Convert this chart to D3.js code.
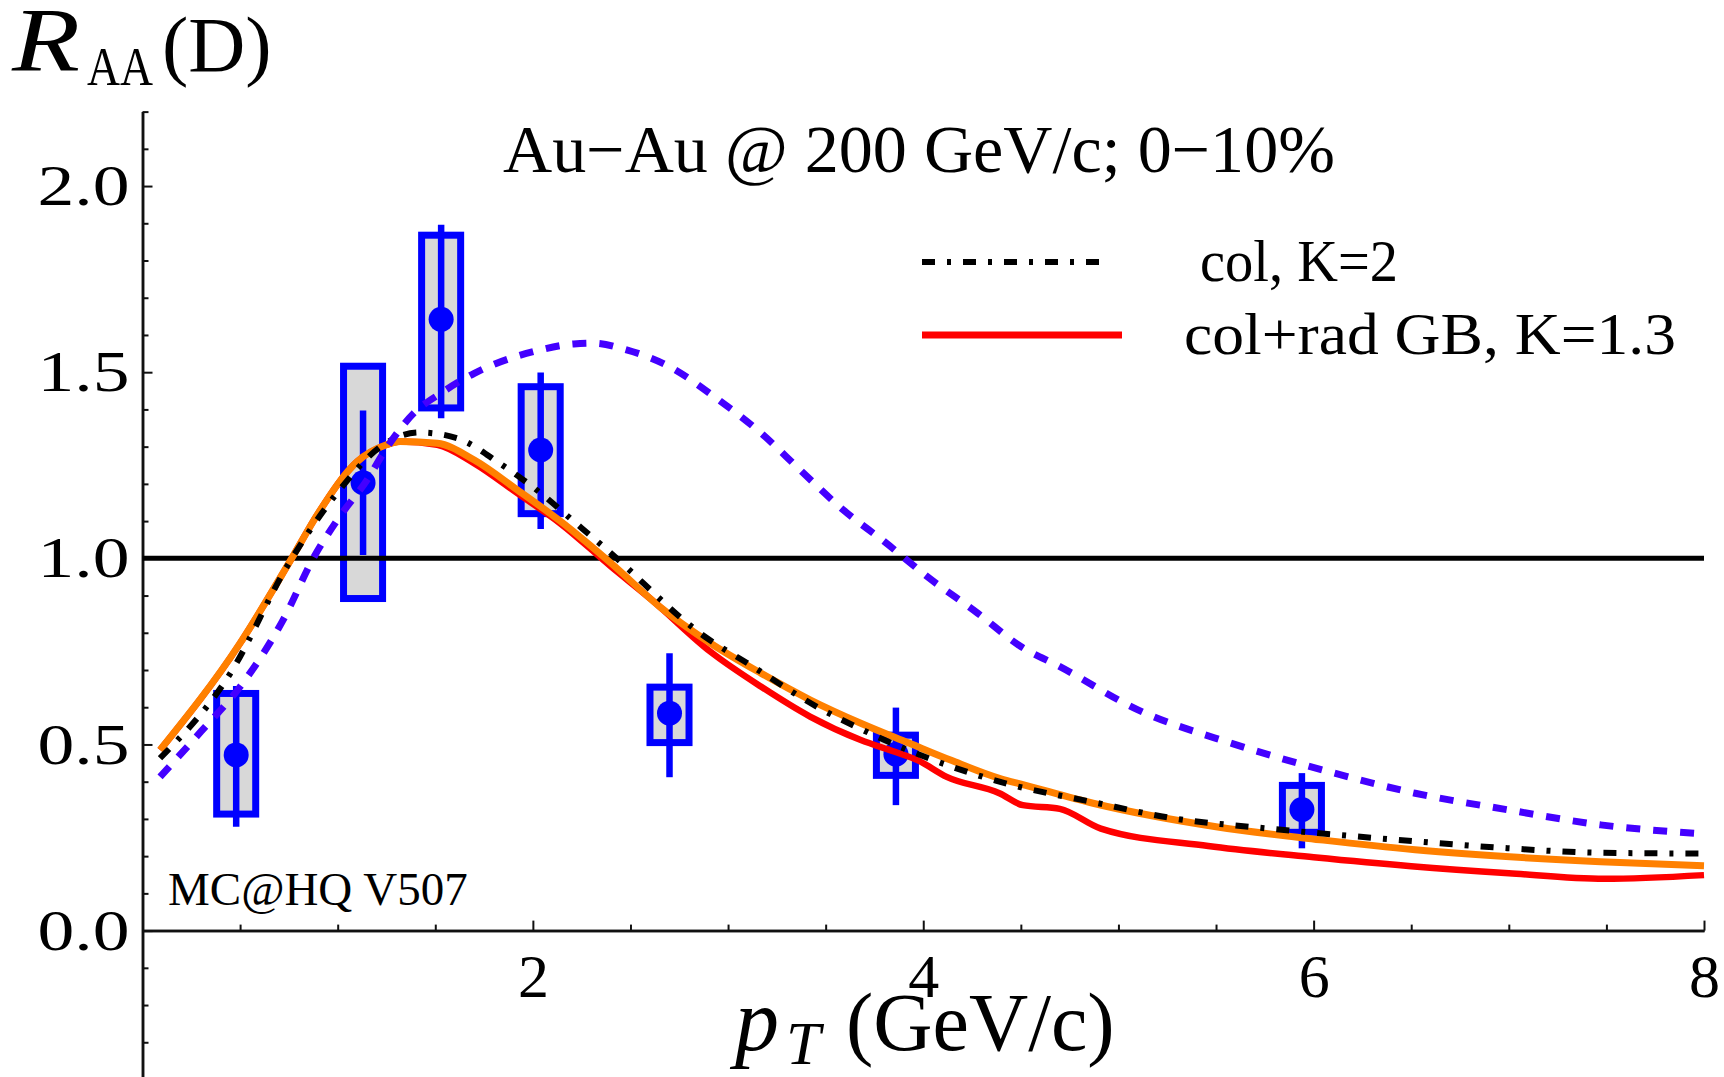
<!DOCTYPE html>
<html><head><meta charset="utf-8">
<script src="https://cdn.jsdelivr.net/npm/d3@7"></script>
<style>
html,body{margin:0;padding:0;background:#fff;overflow:hidden}
svg{display:block}
text{font-family:"Liberation Serif","Times New Roman",serif;fill:#000}
</style></head><body>
<svg id="chart" width="1724" height="1077"></svg>
<script>
// ---- data ----
const dataPt      = [0.48, 1.13, 1.53, 2.04, 2.70, 3.86, 5.94];
const dataRaa     = [0.472, 1.203, 1.642, 1.291, 0.584, 0.474, 0.325];
const statLow     = [0.279, 1.009, 1.376, 1.079, 0.412, 0.337, 0.221];
const statHigh    = [0.657, 1.397, 1.896, 1.499, 0.745, 0.599, 0.423];
const sysLow      = [0.313, 0.892, 1.404, 1.120, 0.505, 0.417, 0.264];
const sysHigh     = [0.637, 1.516, 1.868, 1.461, 0.654, 0.525, 0.390];
const sysHalfWidthPt = 0.1;

const bluePt  = [0.09,0.30,0.50,0.72,0.88,1.01,1.15,1.25,1.39,1.53,1.70,2.04,2.21,2.31,2.48,2.70,2.93,3.17,3.37,3.59,3.81,4.02,4.28,4.50,4.70,5.10,5.58,6.05,6.52,7.00,7.47,8.00];
const blueRaa = [0.413,0.535,0.655,0.834,1.005,1.112,1.210,1.296,1.390,1.444,1.497,1.560,1.576,1.578,1.560,1.515,1.434,1.336,1.237,1.130,1.041,0.951,0.852,0.763,0.709,0.593,0.503,0.431,0.369,0.324,0.284,0.260];

const colK2Pt  = [0.09,0.45,0.74,1.01,1.22,1.42,1.61,1.83,2.04,2.19,2.38,2.88,3.10,3.47,3.69,3.88,4.39,4.87,5.30,5.67,6.13,6.52,7.00,7.47,8.00];
const colK2Raa = [0.463,0.691,0.978,1.184,1.300,1.338,1.323,1.255,1.175,1.108,1.023,0.790,0.718,0.597,0.539,0.494,0.400,0.345,0.300,0.279,0.257,0.240,0.221,0.209,0.207];

const orangePt  = [0.09,0.50,0.76,0.90,1.10,1.25,1.32,1.51,1.70,1.92,2.14,2.40,2.65,2.91,3.17,3.42,3.68,3.93,4.14,4.39,4.52,4.87,5.50,6.05,6.52,7.47,8.00];
const orangeRaa = [0.485,0.772,0.996,1.121,1.260,1.305,1.314,1.309,1.264,1.184,1.100,0.987,0.870,0.772,0.691,0.620,0.557,0.503,0.458,0.409,0.391,0.342,0.279,0.243,0.217,0.185,0.174];

const colRadPt  = [0.09,0.50,0.76,0.90,1.10,1.25,1.32,1.51,1.70,1.92,2.14,2.40,2.61,2.91,3.17,3.42,3.68,3.85,3.97,4.12,4.39,4.51,4.70,4.91,5.46,6.00,6.50,7.00,7.49,8.00];
const colRadRaa = [0.485,0.772,0.996,1.121,1.260,1.305,1.314,1.305,1.255,1.175,1.094,0.978,0.888,0.749,0.655,0.575,0.512,0.481,0.458,0.413,0.369,0.337,0.327,0.274,0.227,0.197,0.173,0.154,0.139,0.149];

const xTickValues = [2, 4, 6, 8];
const xTickLabels = ["2", "4", "6", "8"];
const yTickValues = [0, 0.5, 1.0, 1.5, 2.0];
const yTickLabels = ["0.0", "0.5", "1.0", "1.5", "2.0"];
const legendLabels = ["col, K=2", "col+rad GB, K=1.3"];
const titleText = "Au\u2212Au @ 200 GeV/c; 0\u221210%";
const tagText = "MC@HQ V507";
const referenceLevel = 1.0;

// ---- scales ----
const svg = d3.select("#chart");
const x = d3.scaleLinear().domain([0, 8]).range([142.5, 1704]);
const y = d3.scaleLinear().domain([-0.4, 2.2]).range([1079.5, 111.6]);

// ---- axes ----
const xMinor = d3.range(0.5, 8.01, 0.5).filter(v => Math.abs(v % 2) > 1e-6);
const yMinor = d3.range(-0.3, 2.21, 0.1).filter(v => Math.abs(Math.round(v*10) % 5) !== 0);

const gx = svg.append("g").attr("transform", `translate(0,${y(0)})`);
gx.call(d3.axisBottom(x).tickValues(xMinor).tickSize(-6).tickSizeOuter(0).tickFormat(""));
gx.append("g").call(d3.axisBottom(x).tickValues(xTickValues).tickSize(-10).tickSizeOuter(0).tickPadding(22)
  .tickFormat((d, i) => xTickLabels[i]));
gx.selectAll("path.domain").attr("stroke", "#111").attr("stroke-width", 2.5);
gx.selectAll(".tick line").attr("stroke", "#111").attr("stroke-width", 2);
gx.selectAll(".tick text").attr("font-size", 62).attr("font-family", "Liberation Serif").attr("fill", "#000");

const gy = svg.append("g").attr("transform", `translate(${x(0)},0)`);
gy.call(d3.axisLeft(y).tickValues(yMinor).tickSize(-6).tickSizeOuter(0).tickFormat(""));
gy.append("g").call(d3.axisLeft(y).tickValues(yTickValues).tickSize(-10).tickSizeOuter(0).tickPadding(13)
  .tickFormat((d, i) => yTickLabels[i]));
gy.selectAll("path.domain").attr("stroke", "#111").attr("stroke-width", 2.5);
gy.selectAll(".tick line").attr("stroke", "#111").attr("stroke-width", 2);
gy.selectAll(".tick text").attr("font-size", 58).attr("font-family", "Liberation Serif").attr("fill", "#000")
  .attr("textLength", 92).attr("lengthAdjust", "spacingAndGlyphs");

// ---- data: systematic boxes, error bars, points ----
const pts = dataPt.map((p, i) => ({p, v: dataRaa[i], sl: sysLow[i], sh: sysHigh[i], el: statLow[i], eh: statHigh[i]}));
const gd = svg.append("g");
gd.selectAll("rect.sys").data(pts).join("rect").attr("class", "sys")
  .attr("x", d => x(d.p - sysHalfWidthPt)).attr("width", d => x(d.p + sysHalfWidthPt) - x(d.p - sysHalfWidthPt))
  .attr("y", d => y(d.sh)).attr("height", d => y(d.sl) - y(d.sh))
  .attr("fill", "#d8d8d8").attr("stroke", "#0000ff").attr("stroke-width", 7);
gd.selectAll("line.err").data(pts).join("line").attr("class", "err")
  .attr("x1", d => x(d.p)).attr("x2", d => x(d.p))
  .attr("y1", d => y(d.el)).attr("y2", d => y(d.eh))
  .attr("stroke", "#0000ff").attr("stroke-width", 6.5);
gd.selectAll("circle.pt").data(pts).join("circle").attr("class", "pt")
  .attr("cx", d => x(d.p)).attr("cy", d => y(d.v)).attr("r", 12.5).attr("fill", "#0000ff");

// ---- reference line ----
svg.append("line").attr("x1", x(0)).attr("x2", x(8)).attr("y1", y(referenceLevel)).attr("y2", y(referenceLevel))
  .attr("stroke", "#000").attr("stroke-width", 5);

// ---- curves ----
const line = d3.line().x(d => x(d[0])).y(d => y(d[1])).curve(d3.curveMonotoneX);
function curve(pt, raa, color, width, dash) {
  const p = svg.append("path").datum(pt.map((v, i) => [v, raa[i]]))
    .attr("d", line).attr("fill", "none").attr("stroke", color).attr("stroke-width", width)
    .attr("stroke-linejoin", "round");
  if (dash) p.attr("stroke-dasharray", dash);
  return p;
}
curve(colRadPt, colRadRaa, "#ff0000", 6.5);
curve(orangePt, orangeRaa, "#ff8000", 7);
curve(colK2Pt, colK2Raa, "#000000", 6, "13,12,4,12");
curve(bluePt, blueRaa, "#4400ff", 7, "14,13");

// ---- legend ----
const lg = svg.append("g");
lg.append("line").attr("x1", 922).attr("x2", 1106).attr("y1", 262).attr("y2", 262)
  .attr("stroke", "#000").attr("stroke-width", 6).attr("stroke-dasharray", "13,12,4,12");
lg.append("line").attr("x1", 922).attr("x2", 1122).attr("y1", 335).attr("y2", 335)
  .attr("stroke", "#ff0000").attr("stroke-width", 7);
lg.append("text").attr("x", 1200).attr("y", 281).attr("font-size", 60)
  .attr("textLength", 198).attr("lengthAdjust", "spacingAndGlyphs").text(legendLabels[0]);
lg.append("text").attr("x", 1184).attr("y", 354).attr("font-size", 60)
  .attr("textLength", 492).attr("lengthAdjust", "spacingAndGlyphs").text(legendLabels[1]);

// ---- texts ----
svg.append("text").attr("x", 503).attr("y", 172).attr("font-size", 67)
  .attr("textLength", 832).attr("lengthAdjust", "spacingAndGlyphs").text(titleText);
svg.append("text").attr("x", 168).attr("y", 905).attr("font-size", 47).text(tagText);

// y-axis label R_AA(D)
svg.append("text").attr("x", 12).attr("y", 71).attr("font-size", 92).attr("font-style", "italic")
  .attr("textLength", 68).attr("lengthAdjust", "spacingAndGlyphs").text("R");
svg.append("text").attr("x", 87).attr("y", 85).attr("font-size", 54)
  .attr("textLength", 66).attr("lengthAdjust", "spacingAndGlyphs").text("AA");
svg.append("text").attr("x", 162).attr("y", 71).attr("font-size", 79).text("(D)");

// x-axis label p_T (GeV/c)
const xl = svg.append("text").attr("y", 1050).attr("font-size", 82);
xl.append("tspan").attr("x", 735).attr("font-style", "italic").attr("font-size", 88).text("p");
xl.append("tspan").attr("x", 786).attr("y", 1064).attr("font-size", 62).attr("font-style", "italic").text("T");
xl.append("tspan").attr("x", 846).attr("y", 1050).text("(GeV/c)");
</script>
</body></html>
